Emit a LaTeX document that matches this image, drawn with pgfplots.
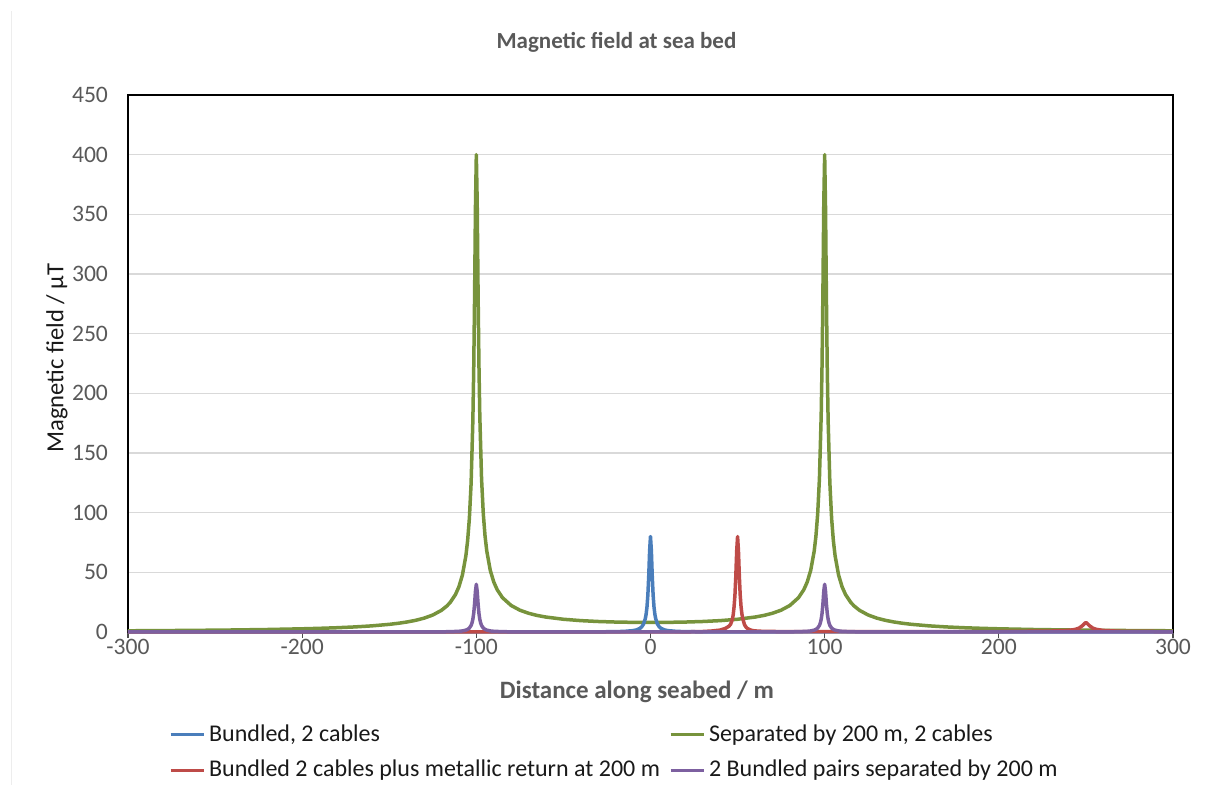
\documentclass[border=0pt]{standalone}
\usepackage{pgfplots}
\pgfplotsset{compat=1.18}
\usepackage{fontspec}
\setmainfont{Carlito}
\definecolor{cblue}{HTML}{4A7EBB}
\definecolor{cred}{HTML}{BE4B48}
\definecolor{cgreen}{HTML}{77933C}
\definecolor{cpurple}{HTML}{7D60A0}
\definecolor{tgray}{HTML}{595959}
\definecolor{ggray}{HTML}{D9D9D9}
\begin{document}
\begin{tikzpicture}
\path[use as bounding box] (0,0) rectangle (603pt,392.5pt);
\draw[color=black!7, line width=0.5pt] (5.5pt,0) -- (5.5pt,387pt);
\node[font=\bfseries\fontsize{11.5}{13}\selectfont, text=tgray] at (308.25pt,371.5pt) {Magnetic field at sea bed};
\begin{axis}[
  at={(64pt,76.5pt)}, anchor=south west,
  scale only axis, width=522.5pt, height=268.5pt,
  xmin=-300, xmax=300, ymin=0, ymax=450,
  clip=false,
  axis line style={black, line width=0.6pt},
  xtick={-300,-200,-100,0,100,200,300},
  xticklabels={-300,-200,-100,0,100,200,300},
  ytick={0,50,100,150,200,250,300,350,400,450},
  yticklabels={0,50,100,150,200,250,300,350,400,450},
  tick align=outside, major tick length=3pt,
  xtick style={black!70, line width=0.6pt},
  ytick style={draw=none},
  xtick pos=bottom, ytick pos=left,
  ymajorgrids, grid style={ggray, line width=0.7pt},
  ticklabel style={font=\fontsize{11.8}{13}\selectfont, text=tgray},
  yticklabel style={xshift=-3.5pt},
  xticklabel style={yshift=2.8pt},
  xlabel={Distance along seabed / m},
  ylabel={Magnetic field / µT},
  xlabel style={at={(axis description cs:0.487,-0.112)}, anchor=center, font=\bfseries\fontsize{12.5}{14}\selectfont, text=tgray},
  ylabel style={at={(axis description cs:-0.068,0.51)}, anchor=center, font=\fontsize{12.3}{14}\selectfont, text=black!90},
  legend columns=2,
  legend cell align=left,
  legend style={at={(axis description cs:0.039,-0.165)}, anchor=north west, draw=none, fill=none,
    font=\fontsize{12}{14}\selectfont, text=black!90, row sep=3.8pt, inner sep=0pt,
    /tikz/every even column/.append style={column sep=2.5pt}},
  legend image code/.code={\draw[#1, line width=1.5pt] (0pt,0pt) -- (16.5pt,0pt);},
]
\addlegendimage{cblue}\addlegendentry{Bundled, 2 cables}
\addlegendimage{cgreen}\addlegendentry{Separated by 200 m, 2 cables}
\addlegendimage{cred}\addlegendentry{Bundled 2 cables plus metallic return at 200 m}
\addlegendimage{cpurple}\addlegendentry{2 Bundled pairs separated by 200 m}

\addplot[cgreen, line width=1.75pt, line join=round, forget plot] table {
x y
-300 1.00
-280 1.17
-260 1.39
-240 1.68
-220 2.08
-200 2.67
-190 3.07
-180 3.57
-170 4.23
-160 5.13
-150 6.40
-145 7.26
-140 8.33
-135 9.73
-130 11.59
-125 14.22
-120 18.18
-117 21.69
-115 24.75
-112 31.33
-110 37.90
-108 47.69
-106 63.82
-105 76.50
-104 95.05
-103 124.52
-102 176.91
-101.5 219.89
-101 280.85
-100.5 355.78
-100 400.00
-99.5 359.78
-99 284.85
-98.5 223.90
-98 180.91
-97 128.52
-96 99.05
-95 80.50
-94 67.82
-92 51.69
-90 41.91
-88 35.35
-85 28.77
-80 22.20
-75 18.28
-70 15.68
-65 13.85
-60 12.50
-50 10.67
-40 9.52
-30 8.79
-20 8.33
-10 8.08
0 8.00
10 8.08
20 8.33
30 8.79
40 9.52
50 10.67
60 12.50
65 13.85
70 15.68
75 18.28
80 22.20
85 28.77
88 35.35
90 41.91
92 51.69
94 67.82
95 80.50
96 99.05
97 128.52
98 180.91
98.5 223.90
99 284.85
99.5 359.78
100 400.00
100.5 355.78
101 280.85
101.5 219.89
102 176.91
103 124.52
104 95.05
105 76.50
106 63.82
108 47.69
110 37.90
112 31.33
115 24.75
117 21.69
120 18.18
125 14.22
130 11.59
135 9.73
140 8.33
145 7.26
150 6.40
160 5.13
170 4.23
180 3.57
190 3.07
200 2.67
220 2.08
240 1.68
260 1.39
280 1.17
300 1.00
};

\addplot[cblue, line width=1.75pt, line join=round, forget plot] table {
x y
-300 0
-50 0.05
-30 0.13
-20 0.29
-15 0.51
-10 1.14
-8 1.76
-6 3.08
-5 4.36
-4 6.6
-3 11.0
-2.5 15.0
-2 21.2
-1.5 31.2
-1 47.2
-0.5 68.2
0 80
0.5 68.2
1 47.2
1.5 31.2
2 21.2
2.5 15.0
3 11.0
4 6.6
5 4.36
6 3.08
8 1.76
10 1.14
15 0.51
20 0.29
30 0.13
50 0.05
300 0
};

\addplot[cred, line width=1.75pt, line join=round, forget plot] table {
x y
-300 0
0 0
20 0.1
30 0.4
35 0.8
40 1.6
43 3.0
45 4.8
46 6.5
47 10.5
47.5 14.5
48 21.2
48.5 31.2
49 47.2
49.5 68.2
50 80
50.5 68.2
51 47.2
51.5 31.2
52 21.2
52.5 15.0
53 11.0
54 6.0
55 3.8
56 2.6
58 1.4
60 0.9
65 0.5
80 0.3
150 0.2
200 0.4
230 0.8
240 1.3
244 2.2
246 3.2
248 5.3
249 6.8
250 8
251 6.8
252 5.3
254 3.2
256 2.2
260 1.3
270 0.6
300 0.3
};

\addplot[cpurple, line width=1.75pt, line join=round, forget plot] table {
x y
-300 0
-120 0.14
-115 0.26
-110 0.57
-108 0.88
-106 1.54
-105 2.2
-104 3.3
-103 5.5
-102.5 7.5
-102 10.6
-101.5 15.6
-101 23.6
-100.5 34.1
-100 40
-99.5 34.1
-99 23.6
-98.5 15.6
-98 10.6
-97.5 7.5
-97 5.5
-96 3.3
-95 2.2
-94 1.54
-92 0.88
-90 0.57
-85 0.26
-80 0.14
0 0
80 0.14
85 0.26
90 0.57
92 0.88
94 1.54
95 2.2
96 3.3
97 5.5
97.5 7.5
98 10.6
98.5 15.6
99 23.6
99.5 34.1
100 40
100.5 34.1
101 23.6
101.5 15.6
102 10.6
102.5 7.5
103 5.5
104 3.3
105 2.2
106 1.54
108 0.88
110 0.57
115 0.26
120 0.14
300 0
};
\end{axis}
\end{tikzpicture}
\end{document}
